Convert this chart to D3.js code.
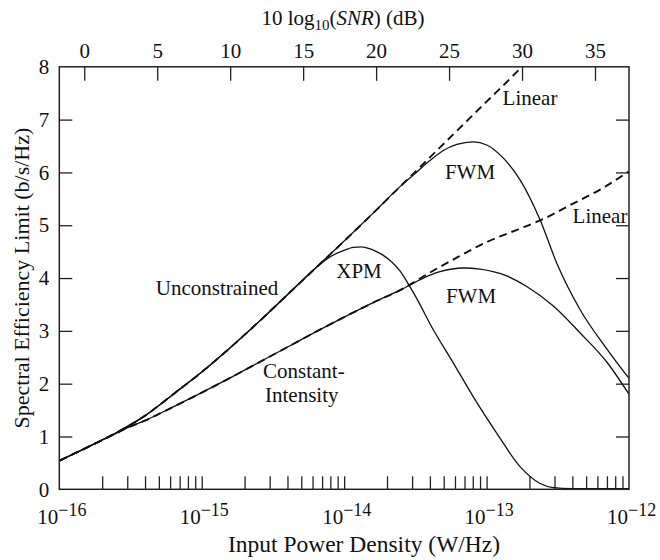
<!DOCTYPE html>
<html>
<head>
<meta charset="utf-8">
<script src="https://cdn.jsdelivr.net/npm/d3@7"></script>
<style>
  body { margin: 0; background: #fff; }
  text { font-family: 'Liberation Serif', 'Times New Roman', serif; fill: #111; }
</style>
</head>
<body>
<script>
// Data: x values are log10 of input power density (W/Hz)
const uncLinearExp = [-16, -15.8, -15.6, -15.4, -15.2, -15.0, -14.8, -14.6, -14.4, -14.2, -14.0, -13.8, -13.6, -13.4, -13.2, -13.0, -12.8, -12.753]
const uncLinearVal = [0.54, 0.80, 1.07, 1.39, 1.80, 2.22, 2.68, 3.17, 3.68, 4.19, 4.70, 5.22, 5.75, 6.28, 6.81, 7.34, 7.87, 8.0]

const uncFwmExp = [-16, -15.8, -15.6, -15.4, -15.2, -15.0, -14.8, -14.6, -14.4, -14.2, -14.0, -13.8, -13.6, -13.514, -13.4, -13.3, -13.209, -13.093, -12.999, -12.882, -12.765, -12.624, -12.507, -12.343, -12.156, -12.0]
const uncFwmVal = [0.54, 0.80, 1.07, 1.39, 1.80, 2.22, 2.68, 3.17, 3.68, 4.19, 4.70, 5.22, 5.75, 5.95, 6.22, 6.42, 6.53, 6.58, 6.52, 6.27, 5.86, 5.10, 4.28, 3.40, 2.66, 2.10]

const uncXpmExp = [-16, -15.8, -15.6, -15.4, -15.2, -15.0, -14.8, -14.6, -14.4, -14.2, -14.1, -14.006, -13.935, -13.88, -13.841, -13.78, -13.725, -13.66, -13.607, -13.55, -13.49, -13.374, -13.233, -13.093, -12.928, -12.765, -12.624, -12.531, -12.4, -12.0]
const uncXpmVal = [0.54, 0.80, 1.07, 1.39, 1.80, 2.22, 2.68, 3.17, 3.68, 4.19, 4.40, 4.52, 4.58, 4.59, 4.57, 4.51, 4.43, 4.29, 4.13, 3.89, 3.61, 3.02, 2.39, 1.75, 1.06, 0.43, 0.11, 0.03, 0.01, 0.01]

const conLinearExp = [-16, -15.8, -15.6, -15.5, -15.4, -15.2, -15.0, -14.8, -14.6, -14.4, -14.2, -14.0, -13.8, -13.6, -13.4, -13.2, -13.0, -12.8, -12.6, -12.4, -12.2, -12.0]
const conLinearVal = [0.54, 0.80, 1.06, 1.19, 1.30, 1.56, 1.83, 2.11, 2.40, 2.69, 2.98, 3.26, 3.53, 3.78, 4.10, 4.40, 4.68, 4.90, 5.12, 5.40, 5.68, 6.02]

const conFwmExp = [-16, -15.8, -15.6, -15.5, -15.4, -15.2, -15.0, -14.8, -14.6, -14.4, -14.2, -14.0, -13.8, -13.6, -13.444, -13.327, -13.163, -13.046, -12.858, -12.718, -12.531, -12.343, -12.156, -12.0]
const conFwmVal = [0.54, 0.80, 1.06, 1.19, 1.30, 1.56, 1.83, 2.11, 2.40, 2.69, 2.98, 3.26, 3.53, 3.78, 4.00, 4.12, 4.19, 4.17, 4.04, 3.84, 3.47, 2.96, 2.41, 1.80]

const yTickValues = [0, 1, 2, 3, 4, 5, 6, 7, 8]
const snrTickValues = [0, 5, 10, 15, 20, 25, 30, 35]
const decadeExps = [-16, -15, -14, -13, -12]

// Layout
const width = 660
const height = 560
const plotLeft = 59.3
const plotRight = 629
const plotTop = 66.8
const plotBottom = 489.3
const font = "'Liberation Serif', 'Times New Roman', serif"

const svg = d3.select('body').append('svg')
  .attr('width', width)
  .attr('height', height)

const x = d3.scaleLog().domain([1e-16, 1e-12]).range([plotLeft, plotRight])
const xTop = d3.scaleLinear().domain([-1.71, 37.33]).range([plotLeft, plotRight])
const y = d3.scaleLinear().domain([0, 8]).range([plotBottom, plotTop])

// minor ticks 2..9 of every decade, plus the inner decades
const bottomTicks = []
for (let e = -16; e < -12; e++) {
  for (let m = 2; m <= 10; m++) {
    const v = m * Math.pow(10, e)
    if (v < 1e-12 * 0.999) bottomTicks.push(v)
  }
}

function styleAxis (g) {
  g.select('.domain').remove()
  g.selectAll('.tick line').attr('stroke', '#222').attr('stroke-width', 1.3)
  g.selectAll('.tick text').style('font-family', font).style('font-size', '21px').attr('fill', '#111')
}

svg.append('g')
  .attr('transform', `translate(${plotLeft},0)`)
  .call(d3.axisLeft(y).tickValues(yTickValues).tickSizeInner(-13).tickSizeOuter(0).tickPadding(10).tickFormat(d3.format('d')))
  .call(styleAxis)
  .call(g => g.selectAll('.tick').filter(d => d === 0 || d === 8).select('line').remove())

svg.append('g')
  .attr('transform', `translate(${plotRight},0)`)
  .call(d3.axisRight(y).tickValues(yTickValues.slice(1, -1)).tickSizeInner(-13).tickSizeOuter(0).tickFormat(''))
  .call(styleAxis)

svg.append('g')
  .attr('transform', `translate(0,${plotTop})`)
  .call(d3.axisTop(xTop).tickValues(snrTickValues).tickSizeInner(-14).tickSizeOuter(0).tickPadding(9).tickFormat(d3.format('d')))
  .call(styleAxis)

svg.append('g')
  .attr('transform', `translate(0,${plotBottom})`)
  .call(d3.axisBottom(x).tickValues(bottomTicks).tickSizeInner(-13).tickSizeOuter(0).tickFormat(''))
  .call(styleAxis)

// bottom decade labels 10^n
const decadeLabels = svg.append('g')
decadeExps.forEach(e => {
  const px = x(Math.pow(10, e))
  decadeLabels.append('text')
    .attr('x', px - 1)
    .attr('y', plotBottom + 35)
    .attr('text-anchor', 'end')
    .style('font-size', '21px')
    .text('10')
  decadeLabels.append('text')
    .attr('x', px - 1)
    .attr('y', plotBottom + 27)
    .style('font-size', '18px')
    .text('\u2212' + Math.abs(e))
})

// curves
const plot = svg.append('g')
svg.append('clipPath').attr('id', 'clip')
  .append('rect').attr('x', plotLeft).attr('y', plotTop).attr('width', plotRight - plotLeft).attr('height', plotBottom - plotTop)

const line = d3.line()
  .x(d => x(Math.pow(10, d[0])))
  .y(d => y(d[1]))
  .curve(d3.curveMonotoneX)

function drawCurve (exps, vals, dashed) {
  plot.append('path')
    .datum(d3.zip(exps, vals))
    .attr('clip-path', 'url(#clip)')
    .attr('fill', 'none')
    .attr('stroke', '#111')
    .attr('stroke-width', dashed ? 1.9 : 1.3)
    .attr('stroke-dasharray', dashed ? '8,5' : null)
    .attr('d', line)
}

drawCurve(uncLinearExp, uncLinearVal, true)
drawCurve(conLinearExp, conLinearVal, true)
drawCurve(uncFwmExp, uncFwmVal, false)
drawCurve(uncXpmExp, uncXpmVal, false)
drawCurve(conFwmExp, conFwmVal, false)

// frame
svg.append('rect')
  .attr('x', plotLeft).attr('y', plotTop)
  .attr('width', plotRight - plotLeft).attr('height', plotBottom - plotTop)
  .attr('fill', 'none')
  .attr('stroke', '#222')
  .attr('stroke-width', 1.5)

// curve labels
const labels = [
  { t: 'Linear', x: 530, y: 105 },
  { t: 'FWM', x: 470, y: 179 },
  { t: 'Linear', x: 600, y: 223 },
  { t: 'FWM', x: 471, y: 303 },
  { t: 'XPM', x: 359, y: 278 },
  { t: 'Unconstrained', x: 217, y: 295 }
]
labels.forEach(l => {
  svg.append('text')
    .attr('x', l.x).attr('y', l.y)
    .attr('text-anchor', 'middle')
    .style('font-size', '21px')
    .text(l.t)
})
svg.append('text').attr('x', 263).attr('y', 378).style('font-size', '21px').text('Constant-')
svg.append('text').attr('x', 265).attr('y', 402).style('font-size', '21px').text('Intensity')

// axis titles
svg.append('text')
  .attr('x', 364).attr('y', 552)
  .attr('text-anchor', 'middle')
  .style('font-size', '23.5px')
  .text('Input Power Density (W/Hz)')

svg.append('text')
  .attr('transform', `translate(29,${(plotTop + plotBottom) / 2}) rotate(-90)`)
  .attr('text-anchor', 'middle')
  .style('font-size', '22px')
  .text('Spectral Efficiency Limit (b/s/Hz)')

const topTitle = svg.append('text')
  .attr('x', 343).attr('y', 25)
  .attr('text-anchor', 'middle')
  .style('font-size', '21px')
topTitle.append('tspan').text('10 log')
topTitle.append('tspan').attr('dy', 5).style('font-size', '15px').text('10')
topTitle.append('tspan').attr('dy', -5).text('(')
topTitle.append('tspan').style('font-style', 'italic').text('SNR')
topTitle.append('tspan').text(') (dB)')
</script>
</body>
</html>
